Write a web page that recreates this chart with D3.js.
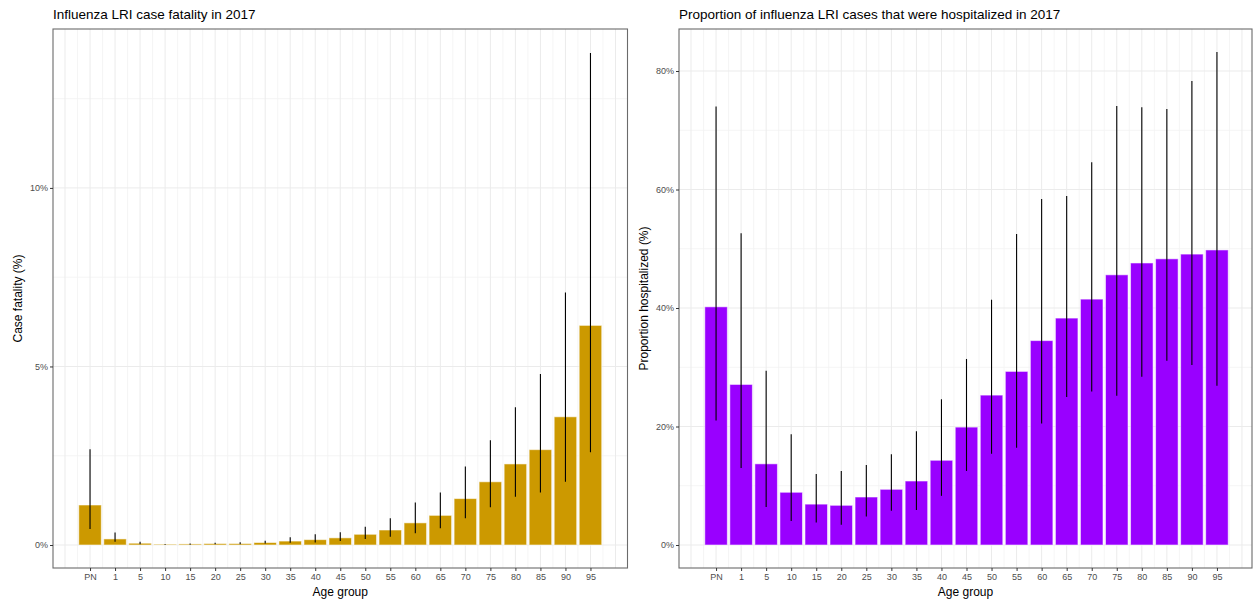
<!DOCTYPE html>
<html>
<head>
<meta charset="utf-8">
<script src="https://cdn.jsdelivr.net/npm/d3@7"></script>
<style>
  html, body { margin: 0; padding: 0; background: #fff; }
  svg { display: block; font-family: "Liberation Sans", Arial, sans-serif; }
</style>
</head>
<body>
<svg id="chart" width="1256" height="605"></svg>
<script>
// ---------- data ----------
const ageGroups = ["PN","1","5","10","15","20","25","30","35","40","45","50","55","60","65","70","75","80","85","90","95"];

// Case fatality (%)
const cfValue = [1.12,0.17,0.05,0.02,0.03,0.04,0.04,0.07,0.11,0.15,0.20,0.30,0.42,0.62,0.83,1.30,1.77,2.27,2.67,3.59,6.15];
const cfUpper = [2.68,0.35,0.09,0.03,0.04,0.065,0.08,0.12,0.22,0.30,0.36,0.51,0.75,1.19,1.47,2.20,2.93,3.86,4.79,7.07,13.78];
const cfLower = [0.45,0.09,0.02,0.01,0.01,0.02,0.02,0.04,0.06,0.07,0.11,0.17,0.23,0.33,0.47,0.75,1.06,1.35,1.47,1.77,2.60];

// Proportion hospitalized (%)
const hospValue = [40.2,27.1,13.7,8.9,6.9,6.7,8.1,9.4,10.8,14.3,19.9,25.3,29.3,34.5,38.3,41.5,45.6,47.6,48.3,49.1,49.8];
const hospUpper = [74.0,52.6,29.4,18.7,12.0,12.5,13.5,15.3,19.2,24.6,31.4,41.4,52.5,58.4,58.9,64.6,74.1,73.9,73.6,78.3,83.2];
const hospLower = [21.0,13.0,6.4,4.05,3.8,3.4,4.8,5.8,5.9,8.3,12.5,15.4,16.4,20.5,25.0,25.9,25.2,28.4,31.1,30.4,26.9];

const cfTicks = [0,5,10];
const cfMinor = [2.5,7.5,12.5];
const hospTicks = [0,20,40,60,80];
const hospMinor = [10,30,50,70];

// ---------- drawing ----------
const svg = d3.select("#chart");

function panel(cfg) {
  const g = svg.append("g");
  const x = d3.scaleLinear().domain(cfg.xDomain).range([cfg.left, cfg.right]);
  const y = d3.scaleLinear().domain(cfg.yDomain).range([cfg.bottom, cfg.top]);
  const idx = d3.range(ageGroups.length);

  // background
  g.append("rect").attr("x", cfg.left).attr("y", cfg.top)
    .attr("width", cfg.right - cfg.left).attr("height", cfg.bottom - cfg.top)
    .attr("fill", "#fff");

  // minor grid (horizontal)
  g.selectAll(".hmin").data(cfg.minor).enter().append("line")
    .attr("x1", cfg.left).attr("x2", cfg.right)
    .attr("y1", d => y(d)).attr("y2", d => y(d))
    .attr("stroke", "#f2f2f2").attr("stroke-width", 0.8);
  // vertical grid: minor at half steps, major at categories
  const vmin = d3.range(-1, ageGroups.length + 1, 1).map(d => d - 0.5).filter(d => d > cfg.xDomain[0] && d < cfg.xDomain[1]);
  g.selectAll(".vmin").data(vmin).enter().append("line")
    .attr("x1", d => x(d)).attr("x2", d => x(d))
    .attr("y1", cfg.top).attr("y2", cfg.bottom)
    .attr("stroke", "#f2f2f2").attr("stroke-width", 0.8);
  const vmaj = d3.range(-1, ageGroups.length + 1).filter(d => d > cfg.xDomain[0] && d < cfg.xDomain[1]);
  g.selectAll(".vmaj").data(vmaj).enter().append("line")
    .attr("x1", d => x(d)).attr("x2", d => x(d))
    .attr("y1", cfg.top).attr("y2", cfg.bottom)
    .attr("stroke", "#ebebeb").attr("stroke-width", 1);
  g.selectAll(".hmaj").data(cfg.ticks).enter().append("line")
    .attr("x1", cfg.left).attr("x2", cfg.right)
    .attr("y1", d => y(d)).attr("y2", d => y(d))
    .attr("stroke", "#ebebeb").attr("stroke-width", 1);

  // bars
  const bw = (x(1) - x(0)) * 0.9;
  g.selectAll(".bar").data(idx).enter().append("rect")
    .attr("x", i => x(i) - bw / 2)
    .attr("width", bw)
    .attr("y", i => y(cfg.values[i]))
    .attr("height", i => y(0) - y(cfg.values[i]))
    .attr("fill", cfg.color)
    .attr("stroke", "#ffffff").attr("stroke-opacity", 0.55).attr("stroke-width", 1);

  // error bars
  g.selectAll(".err").data(idx).enter().append("line")
    .attr("x1", i => x(i)).attr("x2", i => x(i))
    .attr("y1", i => y(cfg.upper[i])).attr("y2", i => y(cfg.lower[i]))
    .attr("stroke", "#000").attr("stroke-width", 1.1);

  // border
  g.append("rect").attr("x", cfg.left).attr("y", cfg.top)
    .attr("width", cfg.right - cfg.left).attr("height", cfg.bottom - cfg.top)
    .attr("fill", "none").attr("stroke", "#6b6b6b").attr("stroke-width", 1.1);

  // axes
  const xAxis = d3.axisBottom(x).tickValues(idx).tickFormat(i => ageGroups[i]).tickSizeOuter(0).tickSize(3).tickPadding(3);
  const gx = g.append("g").attr("transform", `translate(0,${cfg.bottom})`).call(xAxis);
  gx.select(".domain").remove();
  gx.selectAll(".tick line").attr("stroke", "#333");
  gx.selectAll(".tick text").attr("fill", "#4d4d4d").attr("font-size", 9).attr("font-family", "Liberation Sans, Arial, sans-serif");

  const yAxis = d3.axisLeft(y).tickValues(cfg.ticks).tickFormat(d => d + "%").tickSizeOuter(0).tickSize(3).tickPadding(2);
  const gy = g.append("g").attr("transform", `translate(${cfg.left},0)`).call(yAxis);
  gy.select(".domain").remove();
  gy.selectAll(".tick line").attr("stroke", "#333");
  gy.selectAll(".tick text").attr("fill", "#4d4d4d").attr("font-size", 9).attr("font-family", "Liberation Sans, Arial, sans-serif");

  // titles
  g.append("text").attr("x", cfg.left).attr("y", 18.5)
    .attr("font-size", 13.5).attr("fill", "#000").text(cfg.title);
  g.append("text").attr("x", (cfg.left + cfg.right) / 2).attr("y", 596)
    .attr("text-anchor", "middle").attr("font-size", 12).attr("fill", "#000").text("Age group");
  g.append("text")
    .attr("transform", `translate(${cfg.ytitleX},${(cfg.top + cfg.bottom) / 2}) rotate(-90)`)
    .attr("text-anchor", "middle").attr("font-size", 12).attr("fill", "#000").text(cfg.ytitle);
}

panel({
  left: 53, right: 627.5, top: 29, bottom: 568,
  xDomain: [-1.48, 21.48], yDomain: [-0.644, 14.45],
  values: cfValue, upper: cfUpper, lower: cfLower,
  ticks: cfTicks, minor: cfMinor, color: "#CC9900",
  title: "Influenza LRI case fatality in 2017",
  ytitle: "Case fatality (%)", ytitleX: 21.5
});

panel({
  left: 679, right: 1252, top: 29, bottom: 568,
  xDomain: [-1.48, 21.4], yDomain: [-3.88, 87.09],
  values: hospValue, upper: hospUpper, lower: hospLower,
  ticks: hospTicks, minor: hospMinor, color: "#9900FF",
  title: "Proportion of influenza LRI cases that were hospitalized in 2017",
  ytitle: "Proportion hospitalized (%)", ytitleX: 648
});
</script>
</body>
</html>
